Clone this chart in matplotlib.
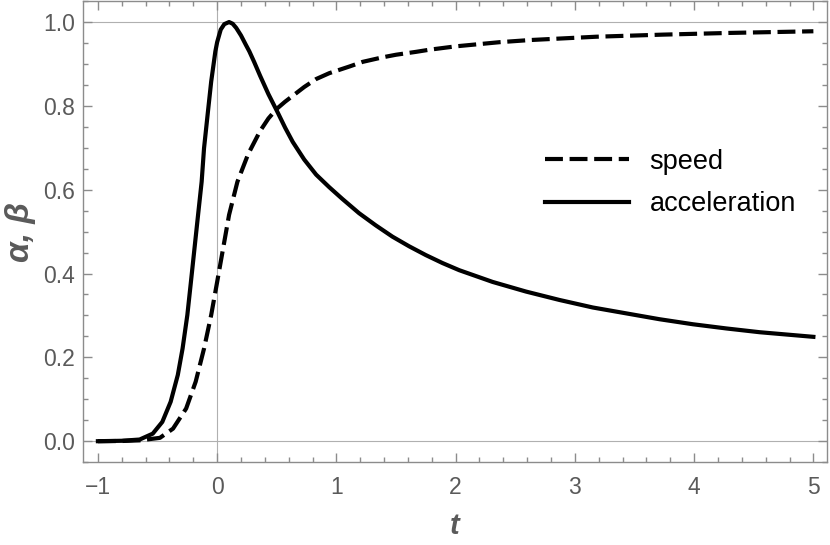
import matplotlib
matplotlib.use("Agg")
import matplotlib.pyplot as plt
from matplotlib.ticker import MultipleLocator

# values
speed_t = [-1.0, -0.8, -0.65, -0.48, -0.37, -0.26, -0.18, -0.11, -0.05, 0.0, 0.05,
           0.10, 0.17, 0.26, 0.36, 0.43, 0.50, 0.57, 0.634, 0.73, 0.83, 0.94, 1.11,
           1.22, 1.39, 1.5, 1.67, 1.78, 2.0, 2.37, 2.62, 3.18, 3.74, 4.29, 5.0]
speed = [0.0, 0.0005, 0.002, 0.008, 0.030, 0.078, 0.142, 0.221, 0.301, 0.38, 0.46,
         0.54, 0.619, 0.685, 0.74, 0.77, 0.793, 0.81, 0.824, 0.845, 0.864, 0.878, 0.894,
         0.905, 0.916, 0.922, 0.929, 0.934, 0.942, 0.952, 0.957, 0.965, 0.970, 0.974, 0.978]

acc_t = [-1.0, -0.8, -0.65, -0.54, -0.46, -0.39, -0.33, -0.29, -0.25, -0.22, -0.19,
         -0.16, -0.13, -0.11, -0.08, -0.05, -0.015, 0.0, 0.03, 0.06, 0.10, 0.13, 0.16,
         0.20, 0.24, 0.27, 0.31, 0.36, 0.43, 0.51, 0.57, 0.634, 0.73, 0.83, 0.94, 1.05,
         1.19, 1.33, 1.47, 1.61, 1.75, 1.89, 2.03, 2.31, 2.59, 2.87, 3.15, 3.43, 3.71,
         3.99, 4.27, 4.55, 5.0]
acc = [0.0, 0.001, 0.004, 0.018, 0.046, 0.094, 0.158, 0.221, 0.301, 0.38, 0.46,
       0.54, 0.619, 0.699, 0.779, 0.858, 0.93, 0.952, 0.982, 0.995, 1.0, 0.996, 0.986,
       0.968, 0.946, 0.93, 0.905, 0.872, 0.828, 0.783, 0.748, 0.714, 0.672, 0.636, 0.606, 0.578,
       0.544, 0.515, 0.488, 0.465, 0.444, 0.425, 0.408, 0.380, 0.357, 0.337, 0.319, 0.305, 0.291,
       0.279, 0.269, 0.260, 0.249]

legend_labels = ["speed", "acceleration"]

frame_col = "#8c8c8c"
text_col = "#5a5a5a"

plt.rcParams['font.family'] = ['Liberation Sans', 'DejaVu Sans']

fig = plt.figure(figsize=(8.3, 5.45), dpi=100)
ax = fig.add_axes([0.100, 0.152, 0.8965, 0.846])

# thin reference lines (axes through origin and y=1)
ax.axhline(0, color="#b0b0b0", lw=0.8, zorder=1)
ax.axhline(1, color="#b0b0b0", lw=0.8, zorder=1)
ax.axvline(0, color="#b0b0b0", lw=0.8, zorder=1)

ax.plot(speed_t, speed, color="black", lw=3.0, dashes=(4.3, 1.6),
        dash_capstyle="butt", label=legend_labels[0], zorder=3)
ax.plot(acc_t, acc, color="black", lw=3.0, solid_joinstyle="round",
        label=legend_labels[1], zorder=3)

ax.set_xlim(-1.125, 5.115)
ax.set_ylim(-0.05, 1.05)

ax.xaxis.set_major_locator(MultipleLocator(1))
ax.xaxis.set_minor_locator(MultipleLocator(0.2))
ax.yaxis.set_major_locator(MultipleLocator(0.2))
ax.yaxis.set_minor_locator(MultipleLocator(0.05))
ax.yaxis.set_major_formatter(plt.FormatStrFormatter("%.1f"))
ax.xaxis.set_major_formatter(plt.FuncFormatter(lambda v, p: ("\u2212%d" % -v) if v < 0 else "%d" % v))

ax.tick_params(which="both", direction="in", top=True, right=True,
               color=frame_col, width=1.0, labelcolor=text_col, labelsize=16.5)
ax.tick_params(which="major", length=6.5)
ax.tick_params(which="minor", length=3.6)
ax.tick_params(axis="x", pad=10)
ax.tick_params(axis="y", pad=6)
for s in ax.spines.values():
    s.set_color(frame_col)
    s.set_linewidth(1.0)

ax.set_xlabel("t", fontsize=21, fontweight="bold", fontstyle="italic",
              color=text_col, labelpad=9)
ax.set_ylabel("\u03b1, \u03b2", fontsize=24, fontweight="bold", fontstyle="italic",
              color=text_col, labelpad=5)

leg = ax.legend(loc="upper left", bbox_to_anchor=(0.607, 0.703), frameon=False,
                fontsize=19.5, handlelength=3.1, handletextpad=0.74, labelspacing=0.6,
                borderaxespad=0)

fig.savefig("out.png", dpi=100)
